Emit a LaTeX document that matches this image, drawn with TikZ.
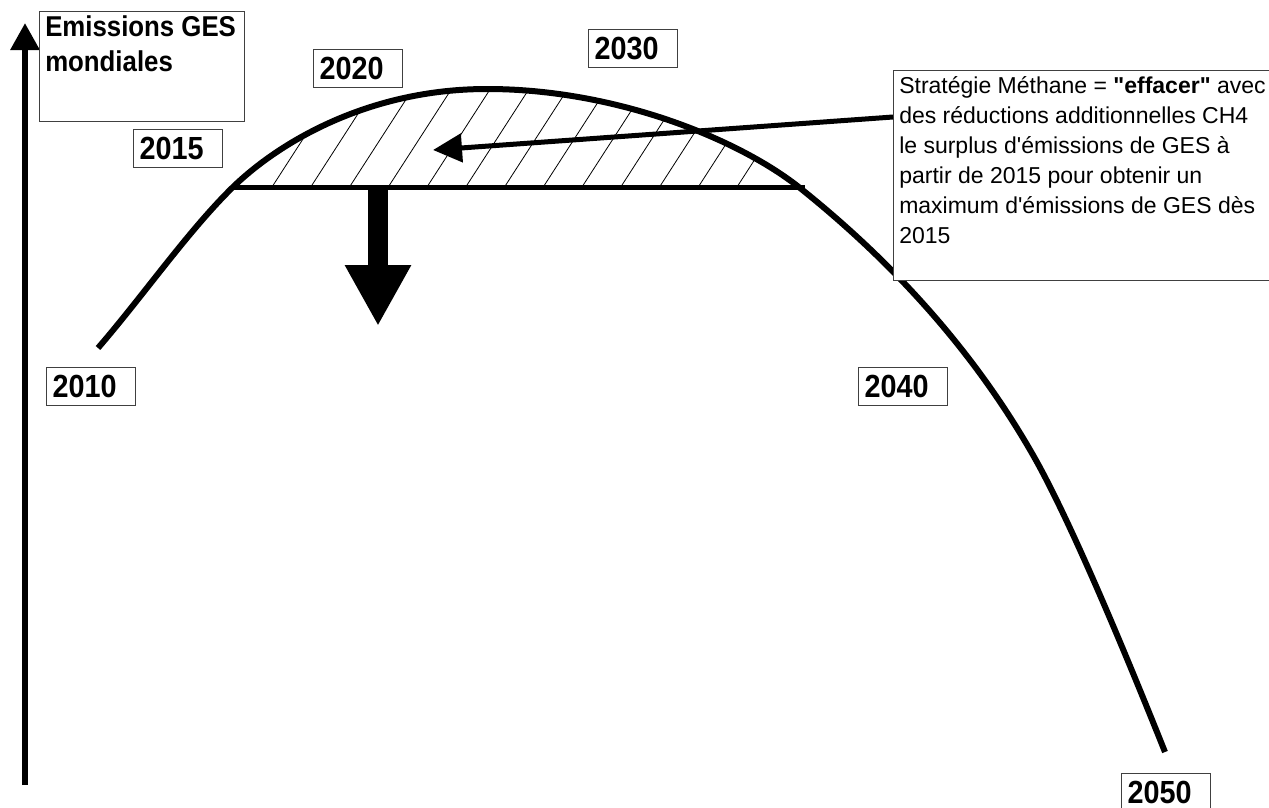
\documentclass[tikz,border=0pt]{standalone}
\usepackage{fontspec}
\newfontfamily\chartfont{Liberation Sans}
\newfontfamily\tallfont[FakeStretch=0.9]{Liberation Sans}
\usetikzlibrary{arrows.meta}

\begin{document}
\begin{tikzpicture}[x=0.75pt,y=-0.75pt,
  yearbox/.style={draw=black!75,line width=0.75pt,anchor=north west,font=\tallfont\bfseries\fontsize{24}{28}\selectfont,text width=57.75pt,align=left,inner xsep=4.5pt,inner ysep=0pt,minimum height=28.5pt},
  textbox/.style={draw=black!75,line width=0.75pt,fill=white,anchor=north west},
  boxtext/.style={anchor=base west,inner sep=0pt},
  curve/.style={line width=4.5pt},
  hatch/.style={line width=0.6pt},
  leader/.style={line width=3.75pt,-{Triangle[length=21.75pt,width=21pt]}}]
\useasboundingbox (0,0) rectangle (1269,807);
% Hatched surplus
\begin{scope}
\clip (233,187) .. controls (278,143.4) and (367,89) .. (487,89) .. controls (617,89) and (740,140) .. (800,188) -- cycle;
\foreach \i in {0,...,12} \draw[hatch] (272+38.75*\i,187) -- ++(71,-110);
\end{scope}
% Emissions curve
\draw[curve] (98,348) coordinate (start) .. controls (143,296) and (188,231) .. (233,187) coordinate (capleft)
  .. controls (278,143.4) and (367,89) .. (487,89) coordinate (peak)
  .. controls (617,89) and (740,140) .. (800,188)
  .. controls (898.8,267) and (976.5,356.1) .. (1033,455)
  .. controls (1062.3,506.3) and (1106.3,605.3) .. (1165,752) coordinate (end);
\draw[line width=3.75pt] (capleft) -- (805,187) coordinate (capright);
% Reduction arrow
\draw[line width=15pt,-{Triangle[length=45.75pt,width=46.5pt]}] (378,187) coordinate (cut) -- (378,326);
% Axis
\draw[line width=4.5pt,-{Triangle[length=20.25pt,width=21pt]}] (25,785) coordinate (axisbottom) -- (25,23);
\node[textbox,minimum width=153.75pt,minimum height=82.5pt] (ylabel) at (39,11) {};
\node[boxtext,font=\tallfont\bfseries\fontsize{21.5}{26.25}\selectfont] (ylabeltext) at (45,36)
  {\parbox[t]{145pt}{Emissions GES\\mondiales}};
% Callout
\node[textbox,minimum width=300pt,minimum height=157.5pt] (callout) at (893,70) {};
\node[boxtext,font=\chartfont\fontsize{17.25}{22.5}\selectfont] (callouttext) at (899,93)
  {\parbox[t]{290pt}{Stratégie Méthane = \textbf{"effacer"} avec\\
des réductions additionnelles CH4\\
le surplus d'émissions de GES à\\
partir de 2015 pour obtenir un\\
maximum d'émissions de GES dès\\
2015}};
\coordinate (surplus) at (433,150);
\draw[leader] (callout.north west) ++(0,47) -- (surplus);
% Years
\node[yearbox] (y2010) at (46,367) {2010};
\node[yearbox] (y2015) at (133,129) {2015};
\node[yearbox] (y2020) at (313,49) {2020};
\node[yearbox] (y2030) at (588,29) {2030};
\node[yearbox] (y2040) at (858,367) {2040};
\node[yearbox] (y2050) at (1121,773) {2050};
\end{tikzpicture}
\end{document}
